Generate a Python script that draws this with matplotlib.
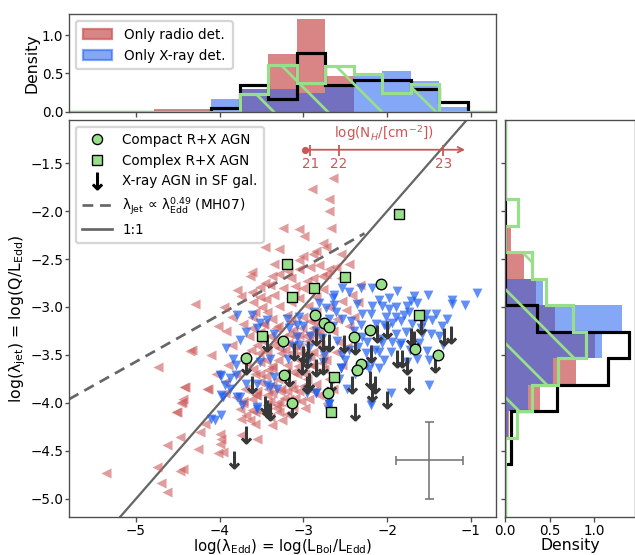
import numpy as np
import matplotlib
matplotlib.use("Agg")
import matplotlib.pyplot as plt
from matplotlib.lines import Line2D
from matplotlib.patches import Patch

# ---- data ----
XLIM = (-5.80, -0.70)
YLIM = (-5.19, -1.05)

# radio-only sources (x upper limits)
radio_x = [-2.65, -2.90, -2.69, -2.69, -3.25, -3.05, -2.99, -2.67, -2.77, -3.46, -3.29, -3.01, -2.85, -2.73, -2.55,
           -3.64, -3.61, -3.79, -3.62, -3.74, -3.46, -3.29, -3.35, -3.05, -2.81, -2.73, -2.61, -2.96, -3.11, -3.29,
           -3.44, -3.62, -4.02, -4.30, -4.33, -4.42, -4.44, -3.52, -3.40, -3.05, -2.89, -2.69, -2.89, -3.05, -2.95,
           -2.77, -2.33, -2.42, -2.49, -2.54, -3.20, -3.37, -3.52, -3.44, -3.29, -3.13, -3.52, -3.37, -3.13, -2.96,
           -3.52, -3.37, -3.20, -3.61, -3.44, -3.29, -3.05, -2.93, -2.81, -3.76, -3.68, -3.49, -3.29, -3.13, -2.89,
           -3.05, -2.85, -2.57, -2.61, -2.54, -2.89, -2.77, -4.36, -4.74, -4.45, -4.51, -4.15, -4.43, -4.14, -4.46,
           -4.52, -3.94, -3.94, -3.80, -4.18, -4.24, -4.48, -4.63, -4.26, -4.00, -3.98, -4.00, -4.02, -3.96, -3.74,
           -3.64, -3.58, -3.74, -3.55, -3.62, -3.26, -3.38, -4.75, -5.36, -4.48, -4.44, -4.70, -4.63, -3.31, -3.17,
           -3.30, -3.15, -3.00, -2.85, -2.70, -3.40, -3.25, -3.10, -2.95, -2.80, -2.65, -3.55, -3.45, -3.30, -3.20,
           -3.05, -2.90, -2.75, -3.60, -3.45, -3.30, -3.15, -3.00, -2.85, -2.70, -3.55, -3.40, -3.10, -2.98, -3.20,
           -3.40, -3.70, -3.80, -3.70, -3.85, -3.65, -3.90, -3.05, -2.92, -3.22, -3.35, -2.60, -2.45, -2.48, -2.65,
           -2.72, -3.50, -3.15, -3.00, -2.85, -3.60, -3.85, -3.95, -4.10, -4.05, -3.25, -3.35, -3.15, -2.55, -2.45,
           -2.35, -2.40, -3.48, -3.33, -3.18, -3.03, -2.88, -3.58, -3.12, -2.97, -3.27, -3.42, -3.57, -3.72, -2.78,
           -3.08, -3.23, -2.93, -3.38, -3.53, -3.68,
           -3.32, -3.17, -3.02, -2.87, -3.47, -3.62, -3.27, -3.12, -2.97, -2.82, -3.37, -3.52, -3.22, -3.07, -2.92,
           -3.42, -3.57, -3.72, -3.28, -3.13, -2.98, -3.43, -3.58, -3.33, -3.18, -3.03, -3.48, -3.63, -2.88, -2.73,
           -3.18, -3.38, -2.92, -3.52, -3.10, -2.78, -3.45, -3.58, -3.72, -3.92]
radio_y = [-1.65, -1.77, -1.87, -2.00, -2.18, -2.19, -2.26, -2.18, -2.33, -2.37, -2.40, -2.47, -2.42, -2.37, -2.45,
           -2.68, -2.63, -2.82, -2.84, -2.89, -2.75, -2.66, -2.87, -2.60, -2.56, -2.66, -2.58, -2.73, -2.87, -2.99,
           -3.05, -3.10, -3.20, -2.97, -3.45, -3.83, -3.96, -2.79, -2.77, -2.51, -2.45, -2.60, -2.70, -2.91, -2.99,
           -2.81, -2.77, -2.87, -3.03, -2.94, -3.08, -3.12, -3.26, -3.47, -3.43, -3.47, -3.57, -3.64, -3.68, -3.75,
           -3.78, -3.81, -3.88, -3.96, -3.92, -3.99, -3.88, -3.96, -3.92, -4.06, -4.13, -4.10, -4.10, -4.04, -3.22,
           -3.29, -3.29, -3.36, -3.47, -3.60, -3.47, -3.50, -3.46, -3.63, -3.99, -4.10, -3.85, -3.83, -3.85, -4.00,
           -4.10, -3.78, -3.90, -3.94, -4.22, -4.30, -4.36, -4.44, -4.48, -4.32, -4.38, -4.43, -4.52, -4.51, -4.17,
           -4.18, -4.22, -4.34, -4.38, -4.07, -4.18, -4.23, -4.67, -4.73, -4.71, -4.69, -4.84, -4.93, -4.02, -3.96,
           -3.20, -3.15, -3.10, -3.05, -3.00, -3.30, -3.32, -3.30, -3.35, -3.40, -3.25, -3.40, -3.55, -3.55, -3.60,
           -3.55, -3.60, -3.65, -3.65, -3.72, -3.75, -3.80, -3.82, -3.80, -3.75, -3.88, -3.98, -3.95, -4.05, -4.12,
           -4.15, -3.85, -3.70, -3.50, -3.40, -3.30, -3.60, -3.42, -3.15, -3.45, -3.40, -3.12, -3.20, -3.42, -3.85,
           -4.00, -3.00, -2.95, -2.80, -2.90, -2.95, -3.10, -3.00, -3.50, -3.70, -2.80, -2.55, -2.70, -2.70, -2.55,
           -2.95, -3.10, -3.18, -3.22, -3.38, -3.48, -3.62, -3.70, -3.24, -3.52, -3.86, -3.66, -3.92, -4.00, -3.58,
           -3.70, -3.95, -3.28, -3.90, -3.48, -3.58,
           -3.35, -3.28, -3.22, -3.15, -3.18, -3.22, -3.48, -3.40, -3.30, -3.25, -3.62, -3.70, -3.68, -3.62, -3.52,
           -3.85, -3.92, -3.98, -3.88, -3.85, -3.70, -4.02, -4.10, -4.05, -4.02, -3.98, -3.35, -3.45, -3.88, -3.55,
           -2.62, -2.68, -2.58, -2.90, -2.78, -2.68, -2.92, -3.05, -3.18, -3.25]

# X-ray-only sources (y upper limits)
xray_x = [-0.93, -1.07, -1.23, -1.23, -1.51, -1.68, -1.71, -1.64, -1.76, -1.88, -1.98, -2.10, -2.18, -2.31, -2.45,
          -2.36, -2.18, -2.06, -2.30, -2.19, -2.01, -1.89, -1.80, -1.74, -1.54, -1.42, -1.29, -1.46, -1.56, -1.83,
          -1.94, -2.04, -2.13, -2.31, -2.43, -2.54, -2.61, -2.63, -1.48, -1.38, -1.58, -1.77, -1.89, -2.07, -2.30,
          -2.24, -2.06, -1.94, -1.83, -1.52, -1.64, -1.50, -1.95, -2.10, -2.04, -2.18, -2.10, -2.25, -2.45, -2.55,
          -1.76, -1.95, -2.19, -2.48, -2.63, -2.54, -2.81, -2.65, -2.73, -2.87, -3.05, -3.20, -3.61, -3.79, -3.52,
          -3.43, -3.68, -3.56, -3.35, -3.76, -3.92, -3.84, -3.80, -4.00, -3.88, -3.94, -3.98, -3.76, -3.52, -3.40,
          -3.19, -3.43, -3.31, -3.55, -3.08, -3.05, -2.93, -3.13, -2.96, -2.77, -2.55, -2.54, -3.17, -3.08, -2.65,
          -2.96, -2.85, -2.69, -2.71, -3.98, -3.88, -3.96, -3.79, -3.73, -4.06, -3.98, -4.10, -3.55, -3.40, -3.35,
          -2.96, -2.85, -2.69, -3.56, -3.68, -3.80, -2.19, -1.50, -2.69, -1.35, -1.60, -1.98, -2.25, -2.40, -2.70,
          -2.85, -3.00, -2.50, -2.60, -2.35, -2.15, -1.85, -1.70, -1.62, -1.33, -2.92, -3.25, -2.75, -2.38, -2.22,
          -2.00, -1.90, -1.73, -2.58, -2.78]
xray_y = [-2.85, -2.98, -2.93, -2.97, -2.87, -2.89, -2.94, -2.96, -2.99, -2.83, -2.91, -2.93, -2.80, -2.80, -2.84,
          -2.97, -2.99, -2.99, -3.07, -3.07, -3.10, -3.10, -3.08, -3.05, -3.07, -3.07, -3.12, -3.14, -3.15, -3.15,
          -3.17, -3.19, -3.18, -3.19, -3.15, -3.12, -3.05, -2.98, -3.28, -3.30, -3.28, -3.26, -3.28, -3.33, -3.31,
          -3.36, -3.38, -3.36, -3.38, -3.46, -3.54, -3.55, -3.47, -3.47, -3.55, -3.57, -3.64, -3.60, -3.45, -3.64,
          -3.57, -3.90, -3.99, -3.85, -2.87, -2.80, -2.96, -2.91, -3.01, -3.05, -3.10, -3.12, -3.08, -3.08, -3.17,
          -3.14, -3.26, -3.22, -3.28, -3.34, -3.43, -3.54, -3.60, -3.71, -3.74, -3.81, -3.92, -3.94, -3.57, -3.54,
          -3.54, -3.81, -3.85, -4.04, -3.31, -3.40, -3.43, -3.41, -3.57, -3.57, -3.64, -3.50, -3.22, -3.19, -3.20,
          -3.87, -3.90, -3.96, -4.06, -3.72, -3.85, -3.94, -3.94, -4.02, -4.18, -4.13, -4.17, -4.06, -3.83, -3.73,
          -3.90, -3.90, -4.01, -3.80, -3.80, -3.71, -4.02, -3.81, -4.01, -3.20, -3.22, -3.02, -3.48, -3.25, -3.12,
          -3.25, -3.20, -3.55, -3.35, -3.42, -3.45, -3.40, -3.18, -3.38, -3.40, -3.30, -3.40, -3.50, -3.70, -3.65,
          -3.22, -3.00, -3.45, -3.75, -3.32]

# compact R+X AGN
compact_x = [-2.07, -2.86, -2.76, -2.70, -2.20, -2.40, -3.24, -3.69, -1.67, -1.39, -2.31, -2.36, -3.23, -2.71, -3.14]
compact_y = [-2.76, -3.08, -3.17, -3.21, -3.24, -3.31, -3.35, -3.53, -3.44, -3.50, -3.59, -3.66, -3.71, -3.90, -4.00]

# complex R+X AGN
complex_x = [-1.86, -3.20, -2.50, -2.87, -3.14, -1.62, -3.50, -2.63, -2.67]
complex_y = [-2.03, -2.55, -2.69, -2.80, -2.90, -3.08, -3.30, -3.73, -4.10]

# X-ray AGN in star-forming galaxies
sf_x = [-3.43, -3.68, -3.61, -3.44, -3.40, -3.14, -3.11, -3.01, -2.96, -2.95, -3.02, -3.17, -2.93, -2.85, -2.85,
        -2.77, -2.77, -2.69, -2.67, -2.51, -2.42, -2.39, -2.39, -2.19, -2.21, -2.15, -2.18, -2.12, -2.00, -2.00,
        -1.88, -1.82, -1.76, -1.74, -1.71, -1.68, -1.60, -1.43, -1.32, -1.24, -2.96, -3.46, -3.68, -3.83, -2.93]
sf_y = [-3.38, -3.62, -3.81, -4.06, -4.10, -4.06, -3.47, -3.50, -3.55, -3.45, -3.62, -3.74, -3.78, -3.31, -3.64,
        -3.62, -3.38, -3.38, -3.80, -3.39, -3.81, -4.09, -3.41, -3.49, -3.76, -3.81, -3.90, -3.28, -3.24, -3.97,
        -3.54, -3.54, -3.62, -3.81, -3.31, -3.34, -3.20, -3.59, -3.31, -3.29, -3.81, -4.02, -4.33, -4.60, -3.78]

# MH07 relation and 1:1 line
mh07_slope, mh07_icpt, mh07_xmax = 0.49, -1.12, -2.27

# N_H scale drawn on the plot
nh_labels = [21, 22, 23]
nh_pos = [-2.92, -2.58, -1.33]
nh_start, nh_end, nh_y = -2.98, -1.07, -1.36

# typical uncertainty
err_x, err_y, err_dx, err_dy = -1.5, -4.6, 0.4, 0.4

# marginal histograms (density per bin)
top_radio = [0, 0, 0, 0.03, 0.03, 0, 0.30, 0.75, 1.21, 0.46, 0, 0, 0, 0, 0]
top_xray = [0, 0, 0, 0, 0, 0.17, 0.30, 0.29, 0.24, 0.35, 0.50, 0.53, 0.40, 0.06, 0]
top_sf = [0, 0, 0, 0, 0, 0.05, 0.35, 0.16, 0.77, 0.35, 0.41, 0.41, 0.29, 0.12, 0]
top_rx = [0, 0, 0, 0, 0, 0, 0.23, 0.61, 0.38, 0.60, 0.49, 0.24, 0.36, 0, 0]

side_radio = [0, 0.02, 0.02, 0.05, 0.39, 0.80, 1.01, 0.56, 0.35, 0.21, 0.07, 0, 0, 0, 0]
side_xray = [0, 0, 0, 0.03, 0.26, 0.54, 1.09, 1.31, 0.43, 0, 0, 0, 0, 0, 0]
side_sf = [0, 0, 0.07, 0.07, 0.58, 1.16, 1.39, 0.36, 0, 0, 0, 0, 0, 0, 0]
side_rx = [0, 0, 0, 0.14, 0.30, 0.60, 0.91, 0.76, 0.46, 0.30, 0, 0.15, 0, 0, 0]

# ---- style ----
RED = "#cd5c5c"
BLUE = "#2060f0"
GREEN = "#98df8a"
GREY = "0.4"
DARK = "0.22"
NHCOL = "#cc5555"

DPI = 162
plt.rcParams.update({
    "font.family": "DejaVu Sans",
    "font.size": 6,
    "axes.edgecolor": "0.3",
    "axes.linewidth": 0.6,
    "xtick.color": "0.3",
    "ytick.color": "0.3",
    "xtick.labelcolor": "black",
    "ytick.labelcolor": "black",
    "xtick.major.size": 2.0,
    "ytick.major.size": 2.0,
    "xtick.major.width": 0.6,
    "ytick.major.width": 0.6,
    "xtick.major.pad": 1.0,
    "ytick.major.pad": 0.6,
    "xtick.labelsize": 6,
    "ytick.labelsize": 6,
    "axes.labelsize": 7,
    "hatch.linewidth": 1.2,
    "hatch.color": GREEN,
    "legend.fontsize": 6,
})

fig = plt.figure(figsize=(635 / DPI, 555 / DPI), dpi=DPI)
ax = fig.add_axes([69 / 635, 1 - 517 / 555, 427 / 635, 397 / 555])
axt = fig.add_axes([69 / 635, 1 - 111.7 / 555, 427 / 635, 97.4 / 555], sharex=ax)
axr = fig.add_axes([505 / 635, 1 - 517 / 555, 130 / 635, 397 / 555], sharey=ax)

# ---- main scatter ----
ax.scatter(radio_x, radio_y, marker="<", s=20, color=RED, alpha=0.6, linewidths=0, zorder=2)
ax.scatter(xray_x, xray_y, marker="v", s=19, color=BLUE, alpha=0.7, linewidths=0, zorder=2)
ax.plot(sf_x, sf_y, ls="none", marker=r"$\downarrow$", ms=7.5, color=DARK, mew=0.5, zorder=3)
ax.scatter(compact_x, compact_y, marker="o", s=22, facecolor=GREEN, edgecolor="black", linewidths=0.6, zorder=4)
ax.scatter(complex_x, complex_y, marker="s", s=22, facecolor=GREEN, edgecolor="black", linewidths=0.6, zorder=4)

xx = np.array([XLIM[0], mh07_xmax])
ax.plot(xx, mh07_slope * xx + mh07_icpt, ls=(0, (4, 2.5)), color=GREY, lw=1.2, zorder=1)
ax.plot([XLIM[0], XLIM[1]], [XLIM[0], XLIM[1]], color=GREY, lw=1.0, zorder=1)

ax.errorbar(err_x, err_y, xerr=err_dx, yerr=err_dy, color="0.45", lw=0.7, capsize=2, capthick=0.7)

# N_H scale
ax.annotate("", xy=(nh_end, nh_y), xytext=(nh_start, nh_y),
            arrowprops=dict(arrowstyle="->", color=NHCOL, lw=0.8, shrinkA=0, shrinkB=0))
ax.plot([nh_start], [nh_y], "o", ms=2.2, color=NHCOL)
ax.vlines(nh_pos, nh_y + 0.05, nh_y - 0.07, color=NHCOL, lw=0.8)
for lab, p in zip(nh_labels, nh_pos):
    ax.text(p, nh_y - 0.08, str(lab), color=NHCOL, ha="center", va="top", fontsize=6)
ax.text(-2.04, -1.19, r"log(N$_H$/[cm$^{-2}$])", color=NHCOL, ha="center", va="center", fontsize=6)

ax.set_xlim(*XLIM)
ax.set_ylim(*YLIM)
ax.set_xticks([-5, -4, -3, -2, -1])
ax.set_yticks([-5.0, -4.5, -4.0, -3.5, -3.0, -2.5, -2.0, -1.5])
ax.set_xlabel("log(λ$_{\\rm Edd}$) = log(L$_{\\rm Bol}$/L$_{\\rm Edd}$)", labelpad=-0.3, fontsize=6.6)
ax.set_ylabel("log(λ$_{\\rm jet}$) = log(Q/L$_{\\rm Edd}$)", labelpad=1.0)

handles = [
    Line2D([], [], ls="none", marker="o", ms=4.5, mfc=GREEN, mec="black", mew=0.6),
    Line2D([], [], ls="none", marker="s", ms=4.5, mfc=GREEN, mec="black", mew=0.6),
    Line2D([], [], ls="none", marker=r"$\downarrow$", ms=7.5, color="black", mew=0.5),
    Line2D([], [], ls=(0, (4, 2.5)), color=GREY, lw=1.2),
    Line2D([], [], color=GREY, lw=1.2),
]
labels = ["Compact R+X AGN", "Complex R+X AGN", "X-ray AGN in SF gal.",
          "λ$_{\\rm Jet}$ ∝ λ$_{\\rm Edd}^{0.49}$ (MH07)", "1:1"]
ax.legend(handles, labels, loc="upper left", handlelength=2.2, borderpad=0.45, labelspacing=0.5,
          handletextpad=0.8, borderaxespad=0.5)

# ---- top histogram ----
xedges = np.linspace(XLIM[0], XLIM[1], len(top_radio) + 1)
axt.stairs(top_radio, xedges, fill=True, color=RED, alpha=0.75, lw=0)
axt.stairs(top_xray, xedges, fill=True, color=BLUE, alpha=0.55, lw=0)
axt.stairs(top_sf, xedges, color="black", lw=1.4)
axt.bar(xedges[:-1], top_rx, width=np.diff(xedges), align="edge", facecolor="none",
        edgecolor=GREEN, hatch="\\", lw=0)
axt.stairs(top_rx, xedges, color=GREEN, lw=1.4)
axt.set_ylim(0, 1.27)
axt.set_yticks([0.0, 0.5, 1.0])
axt.set_ylabel("Density", labelpad=1.0)
axt.tick_params(labelbottom=False)
axt.legend([Patch(color=RED, alpha=0.75), Patch(color=BLUE, alpha=0.55)],
           ["Only radio det.", "Only X-ray det."], loc="upper left", handlelength=2.2,
           borderpad=0.5, handletextpad=0.9)

# ---- side histogram ----
yedges = np.linspace(YLIM[0], YLIM[1], len(side_radio) + 1)
axr.stairs(side_radio, yedges, orientation="horizontal", fill=True, color=RED, alpha=0.75, lw=0)
axr.stairs(side_xray, yedges, orientation="horizontal", fill=True, color=BLUE, alpha=0.55, lw=0)
axr.stairs(side_sf, yedges, orientation="horizontal", color="black", lw=1.4)
axr.barh(yedges[:-1], side_rx, height=np.diff(yedges), align="edge", facecolor="none",
         edgecolor=GREEN, hatch="\\", lw=0)
axr.stairs(side_rx, yedges, orientation="horizontal", color=GREEN, lw=1.4)
axr.set_xlim(0, 1.46)
axr.set_xticks([0.0, 0.5, 1.0])
axr.set_xlabel("Density", labelpad=0)
axr.tick_params(labelleft=False)

fig.align_ylabels([ax, axt])
fig.savefig("out.png", dpi=DPI)
